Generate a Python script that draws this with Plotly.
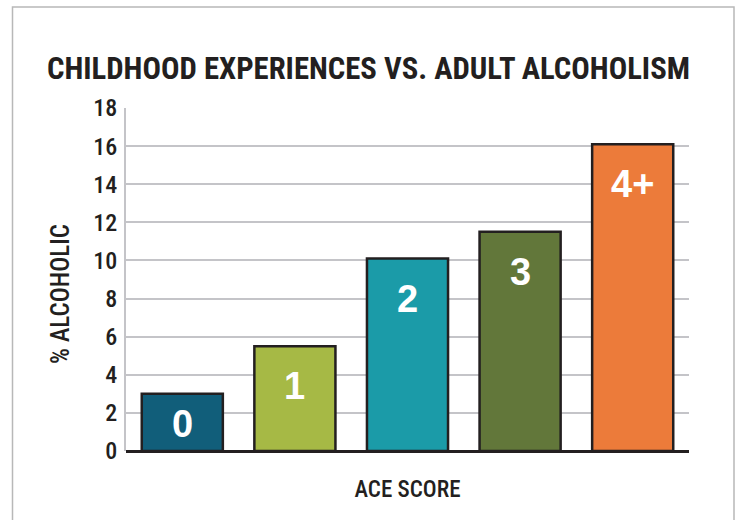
import plotly.graph_objects as go

categories = ["0", "1", "2", "3", "4+"]
values = [3.0, 5.5, 10.1, 11.5, 16.1]
bar_colors = ["#115e7a", "#a6b945", "#1b9ba8", "#62773a", "#ec7b3a"]
y_ticks = [0, 2, 4, 6, 8, 10, 12, 14, 16, 18]

COND = "Roboto Condensed, Liberation Sans Narrow, DejaVu Sans Condensed, Arial Narrow, sans-serif"
DARK = "#231f20"
GRID = "#c4c4c8"

W, H = 737, 520
ML, MR, MT, MB = 126, 48, 108, 69
pw = W - ML - MR
ph = H - MT - MB

fig = go.Figure()
fig.add_trace(go.Bar(
    x=categories, y=values,
    marker=dict(color=bar_colors, line=dict(color=DARK, width=2.5)),
    hoverinfo="skip",
))

for c, v in zip(categories, values):
    if v > 4:
        fig.add_annotation(x=c, y=v, text=f"<b>{c}</b>", showarrow=False,
                           yanchor="middle", yshift=-40,
                           font=dict(family="Liberation Sans, Arial, sans-serif", size=38, color="white"))
    else:
        fig.add_annotation(x=c, y=v / 2, text=f"<b>{c}</b>", showarrow=False,
                           yanchor="middle", yshift=-2,
                           font=dict(family="Liberation Sans, Arial, sans-serif", size=38, color="white"))

# y-axis title (placed slightly below the plot's vertical centre, as in the original)
fig.add_annotation(xref="paper", yref="paper", x=(60 - ML) / pw, y=(H - MB - 294) / ph,
                   text="% ALCOHOLIC", textangle=-90, showarrow=False,
                   xanchor="center", yanchor="middle",
                   font=dict(family=COND, size=25, color=DARK, weight=500))

fig.add_shape(type="rect", xref="paper", yref="paper",
              x0=(12.5 - ML) / pw, x1=(734 - ML) / pw,
              y0=-0.4, y1=(H - MB - 7) / ph,
              line=dict(color="#b8b8b8", width=1.5), fillcolor="rgba(0,0,0,0)", layer="below")

fig.update_layout(
    width=W, height=H,
    margin=dict(l=ML, r=MR, t=MT, b=MB, pad=0),
    paper_bgcolor="white", plot_bgcolor="white",
    bargap=0.28,
    showlegend=False,
    title=dict(text="<b>CHILDHOOD EXPERIENCES VS. ADULT ALCOHOLISM</b>",
               x=0.5, xref="container", xanchor="center",
               y=1 - 68 / H, yref="container", yanchor="middle",
               font=dict(family=COND, size=30.7, color=DARK)),
    xaxis=dict(showticklabels=False, showgrid=False, showline=False, ticks="",
               title=dict(text="ACE SCORE", standoff=29,
                          font=dict(family=COND, size=23, color=DARK, weight=500))),
    yaxis=dict(range=[0, 18], tickvals=y_ticks, showgrid=True, gridcolor=GRID, gridwidth=2,
               showline=True, linecolor=GRID, linewidth=2,
               zeroline=True, zerolinecolor=DARK, zerolinewidth=2.5,
               ticks="", ticklabelstandoff=2,
               tickfont=dict(family=COND, size=24, color=DARK, weight=500)),
)

fig.write_html("out.html", config={"displayModeBar": False},
               post_script="document.body.style.margin='0';")
